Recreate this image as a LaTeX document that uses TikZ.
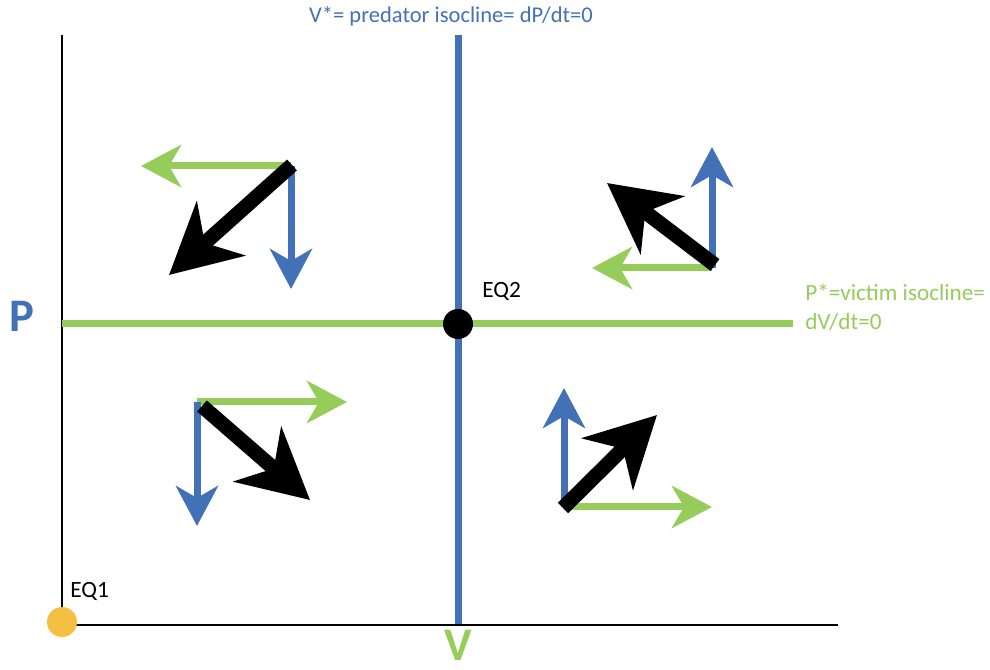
\documentclass[tikz,border=0pt]{standalone}
\usepackage{fontspec}
\setmainfont{Carlito}
\usetikzlibrary{arrows.meta}
\definecolor{pblue}{RGB}{66,113,183}
\definecolor{vgreen}{RGB}{150,204,90}
\definecolor{eqyellow}{RGB}{245,192,66}
\tikzset{
  axisline/.style={draw=black, line width=0.9pt},
  isoblue/.style={draw=pblue, line width=5.25pt},
  isogreen/.style={draw=vgreen, line width=5.25pt},
  bluearr/.style={draw=pblue, fill=pblue, line width=5.25pt, -{Stealth[length=30pt,width=31.5pt,inset=9pt]}},
  greenarr/.style={draw=vgreen, fill=vgreen, line width=5.25pt, -{Stealth[length=30pt,width=31.5pt,inset=9pt]}},
  blackarr/.style={draw=black, line width=11pt, -{Stealth[length=52pt,width=54pt,inset=16pt]}},
  eqdot/.style={circle, minimum size=22.5pt, inner sep=0pt},
  lbl/.style={inner sep=0pt, font=\fontsize{16.9pt}{21.75pt}\selectfont},
  eqlbl/.style={inner sep=0pt, anchor=base west, font=\fontsize{17.5pt}{20pt}\selectfont},
  biglbl/.style={inner sep=0pt, anchor=base, text depth=0pt, font=\fontsize{35pt}{35pt}\selectfont\bfseries}
}
\begin{document}
\begin{tikzpicture}[x=0.75pt, y=-0.75pt]
\useasboundingbox (0,0) rectangle (990,670);
% axes
\coordinate (O) at (62,625);
\coordinate (Ytop) at (62,35);
\coordinate (Xend) at (838,625);
\draw[axisline] (Ytop) -- (O) -- (Xend);
% isoclines
\coordinate (Vtop) at (458,35);
\coordinate (Vbot) at (458,624);
\coordinate (Pl) at (62,324);
\coordinate (Pr) at (793,324);
\draw[isogreen] (Pl) -- (Pr);
\draw[isoblue] (Vtop) -- (Vbot);
% equilibria
\node[eqdot, fill=black] (EQ2) at (458,324) {};
\node[eqdot, fill=eqyellow] (EQ1) at (62,622) {};
\node[eqlbl] (eq2t) at (482,298) {EQ2};
\node[eqlbl] (eq1t) at (70,597) {EQ1};
% labels
\node[biglbl, text=pblue] (Plbl) at (22,332) {P};
\node[biglbl, text=vgreen] (Vlbl) at (458,660) {V};
\node[lbl, text=pblue] (toplbl) at (451,16) {V*= predator isocline= dP/dt=0};
\node[lbl, text=vgreen, anchor=base west, align=left, font=\fontsize{17.4pt}{22pt}\selectfont] (rlbl) at (805,330) {P*=victim isocline=\\dV/dt=0};
% quadrant 1 (top-left)
\coordinate (a1) at (291,166);
\coordinate (a1g) at (141,166);
\coordinate (a1b) at (291,289);
\coordinate (a1s) at (292,165);
\coordinate (a1k) at (169,275);
\draw[greenarr] (a1) -- (a1g);
\draw[bluearr] (a1) -- (a1b);
\draw[blackarr] (a1s) -- (a1k);
% quadrant 2 (top-right)
\coordinate (a2) at (712,268);
\coordinate (a2g) at (592,268);
\coordinate (a2b) at (712,147);
\coordinate (a2s) at (715,265);
\coordinate (a2k) at (607,183);
\draw[greenarr] (a2) -- (a2g);
\draw[bluearr] (a2) -- (a2b);
\draw[blackarr] (a2s) -- (a2k);
% quadrant 3 (bottom-left)
\coordinate (a3) at (197,402);
\coordinate (a3g) at (347,402);
\coordinate (a3b) at (197,526);
\coordinate (a3s) at (202,406);
\coordinate (a3k) at (310,500);
\draw[greenarr] (a3) -- (a3g);
\draw[bluearr] (a3) -- (a3b);
\draw[blackarr] (a3s) -- (a3k);
% quadrant 4 (bottom-right)
\coordinate (a4) at (564,507);
\coordinate (a4g) at (712,507);
\coordinate (a4b) at (564,388);
\coordinate (a4s) at (563,508);
\coordinate (a4k) at (657,415);
\draw[greenarr] (a4) -- (a4g);
\draw[bluearr] (a4) -- (a4b);
\draw[blackarr] (a4s) -- (a4k);
\end{tikzpicture}
\end{document}
